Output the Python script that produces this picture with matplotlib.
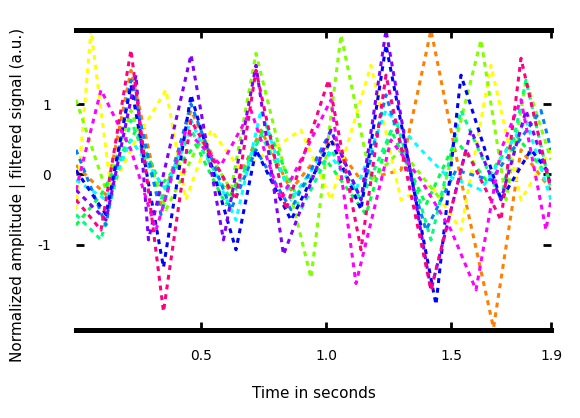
import numpy as np
import matplotlib.pyplot as plt

# vertices of each trace: time (s) and normalized amplitude
t_rose = [0, 0.1, 0.22, 0.35, 0.46, 0.64, 0.72, 0.84, 1.01, 1.14, 1.24, 1.42, 1.56, 1.70, 1.78, 1.9]
a_rose = [-0.36, -0.79, 1.77, -1.95, 0.77, -0.36, 1.48, -0.50, 1.34, -1.07, 1.41, -1.64, 0.35, -0.65, 1.65, -0.22]

t_blue = [0, 0.12, 0.22, 0.35, 0.46, 0.64, 0.72, 0.86, 1.02, 1.14, 1.24, 1.44, 1.54, 1.70, 1.82, 1.9]
a_blue = [0.06, -0.57, 1.27, -1.32, 1.13, -1.07, 0.35, -0.65, 0.49, -0.50, 1.84, -1.85, 1.41, -0.36, 0.35, -0.01]

t_violet = [0, 0.12, 0.24, 0.29, 0.46, 0.59, 0.72, 0.83, 1.02, 1.14, 1.24, 1.42, 1.58, 1.70, 1.80, 1.9]
a_violet = [-0.22, -0.65, 1.41, -0.93, 1.70, -0.93, 1.55, -1.14, 0.63, -0.36, 2.05, -1.64, 0.63, -0.36, 0.91, -0.15]

t_orange = [0, 0.12, 0.22, 0.34, 0.46, 0.62, 0.74, 0.86, 1.02, 1.14, 1.30, 1.42, 1.54, 1.67, 1.78, 1.9]
a_orange = [0.13, -0.29, 1.48, -0.43, 0.91, -0.29, 0.63, -0.22, 0.49, -0.08, 0.06, 2.05, -0.08, -2.18, 0.35, -0.22]

t_lime = [0, 0.12, 0.22, 0.36, 0.50, 0.62, 0.72, 0.94, 1.06, 1.18, 1.30, 1.46, 1.62, 1.72, 1.80, 1.9]
a_lime = [1.06, -0.22, 0.91, -0.50, 0.49, -0.22, 1.72, -1.47, 1.98, -0.08, 0.35, -0.36, 1.91, -0.36, 1.34, 0.21]

t_yellow = [0, 0.06, 0.14, 0.24, 0.36, 0.44, 0.54, 0.66, 0.90, 1.02, 1.18, 1.30, 1.42, 1.54, 1.66, 1.78, 1.9]
a_yellow = [-0.50, 2.05, -0.22, 0.49, 1.20, -0.36, 0.63, 0.06, 0.63, -0.36, 1.55, -0.36, -0.15, -0.79, 1.55, -0.36, 0.35]

t_spring = [0, 0.10, 0.22, 0.34, 0.46, 0.62, 0.74, 0.90, 1.02, 1.14, 1.28, 1.42, 1.54, 1.70, 1.80, 1.9]
a_spring = [-0.57, -0.93, 0.77, -0.36, 0.63, -0.36, 0.56, -0.50, 0.35, -0.36, 0.77, -0.93, 0.91, -0.36, 1.34, -0.22]

t_cyan = [0, 0.12, 0.22, 0.36, 0.46, 0.64, 0.74, 0.86, 1.00, 1.12, 1.24, 1.38, 1.48, 1.62, 1.80, 1.9]
a_cyan = [-0.08, -0.36, 0.49, -0.22, 0.77, -0.65, 0.91, -0.36, 0.35, -0.22, 0.91, 0.35, -0.01, -0.22, 0.77, -0.36]

t_azure = [0, 0.12, 0.22, 0.34, 0.46, 0.62, 0.72, 0.86, 1.02, 1.14, 1.24, 1.40, 1.52, 1.66, 1.86, 1.9]
a_azure = [0.35, -0.72, 1.34, -0.57, 1.00, -0.50, 0.35, -0.50, 0.63, -0.36, 1.13, -0.79, 0.06, -0.08, 0.91, 0.35]

t_magenta = [0, 0.10, 0.22, 0.32, 0.44, 0.58, 0.70, 0.82, 1.02, 1.12, 1.26, 1.38, 1.50, 1.60, 1.70, 1.78, 1.88, 1.9]
a_magenta = [-0.22, 1.20, 0.35, -0.79, 0.63, 0.13, 0.91, -0.36, 1.06, -1.55, 0.49, -0.08, -0.79, -1.64, 0.35, 1.06, -0.79, -0.36]

t_green = [0, 0.10, 0.24, 0.34, 0.48, 0.60, 0.76, 0.88, 1.00, 1.16, 1.26, 1.40, 1.52, 1.64, 1.76, 1.9]
a_green = [-0.72, -0.29, 0.63, -0.15, 0.42, -0.43, 0.70, -0.29, 0.21, -0.57, 0.63, -0.43, 0.49, -0.08, 0.56, -0.08]

traces = [
    (t_orange, a_orange, '#ff8000'),
    (t_yellow, a_yellow, '#ffff00'),
    (t_lime, a_lime, '#80ff00'),
    (t_green, a_green, '#00ff40'),
    (t_spring, a_spring, '#00ff80'),
    (t_cyan, a_cyan, '#00ffff'),
    (t_azure, a_azure, '#0080ff'),
    (t_blue, a_blue, '#0000ff'),
    (t_violet, a_violet, '#8000ff'),
    (t_magenta, a_magenta, '#ff00ff'),
    (t_rose, a_rose, '#ff0080'),
]

fig = plt.figure(figsize=(5.8, 4.18), dpi=100)
ax = fig.add_axes([0.131, 0.2105, 0.819, 0.7175])

for t, a, c in traces:
    ax.plot(t, a, color=c, lw=2.2, linestyle=(0, (1.6, 1.6)))

ax.set_xlim(0, 1.9)
ax.set_ylim(-2.21, 2.05)
ax.set_xticks([0.5, 1.0, 1.5, 1.9])
ax.set_xticklabels(['0.5', '1.0', '1.5', '1.9'])
ax.set_yticks([-1, 0, 1])
ax.set_yticklabels(['-1', '0', '1'])

for s in ['left', 'right']:
    ax.spines[s].set_visible(False)
for s in ['top', 'bottom']:
    ax.spines[s].set_linewidth(3.6)

ax.tick_params(direction='in', top=True, right=True, length=6, width=2,
               labelsize=10, pad=14)
ax.tick_params(axis='y', pad=18)

ax.set_xlabel('Time in seconds', fontsize=11, labelpad=16)
ax.set_ylabel('Normalized amplitude | filtered signal (a.u.)', fontsize=11, labelpad=8)
ax.yaxis.set_label_coords(-0.105, 0.45)

fig.savefig('out.png', dpi=100)
